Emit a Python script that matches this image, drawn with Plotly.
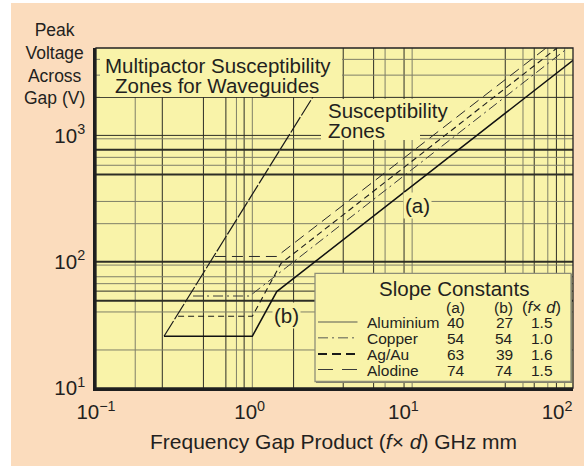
import plotly.graph_objects as go

# ---------------- data ----------------
X_TICKS = [0.1, 1, 10, 100]
X_TICK_TEXT = ["10<sup>−1</sup>", "10<sup>0</sup>", "10<sup>1</sup>", "10<sup>2</sup>"]
Y_TICKS = [10, 100, 1000]
Y_TICK_TEXT = ["10<sup>1</sup>", "10<sup>2</sup>", "10<sup>3</sup>"]

# graph-paper grid (frequency-gap product, voltage)
GRID_FD_DARK = [0.27, 0.5, 0.7, 0.92, 1.93, 4.06, 6.4, 10.1, 46, 71, 99]
GRID_FD_LIGHT = [0.18, 0.82, 1.04, 7.6, 11.4, 60, 87, 112]
GRID_V_DARK = [58.5, 1000, 2000]
GRID_V_LIGHT = [20, 40, 67, 76, 94, 200, 300, 580, 670, 940, 3000, 4000]
GRID_V_THICK = [49, 100, 490, 770]

# left boundary of the susceptibility zones
BOUND_FD = [0.277, 2.8]
BOUND_V = [25.7, 2370]

# material curves
ALU_FD = [0.277, 1.04, 1.5, 127]
ALU_V = [25.7, 25.7, 58, 3930]
CU_FD = [0.428, 1.0, 127]
CU_V = [53.5, 53.5, 5300]
AG_FD = [0.342, 1.04, 1.6, 127]
AG_V = [37, 37, 97, 6190]
ALO_FD = [0.594, 1.5, 127]
ALO_V = [110, 110, 7200]

# slope-constant table
MATERIALS = ["Aluminium", "Copper", "Ag/Au", "Alodine"]
SLOPE_A = [40, 54, 63, 74]
SLOPE_B = [27, 54, 39, 74]
SLOPE_FD = ["1.5", "1.0", "1.6", "1.5"]

# ---------------- styling ----------------
FONT = "Liberation Sans, Arial, Helvetica, sans-serif"
TXT = "#231f20"
PEACH = "#fbdcbd"
YELLOW = "#f9f3a9"
DARK = "#2e2e26"
LIGHT = "#7f7f68"

W, H = 584, 466
ML, MR, MT, MB = 96, 11, 48, 78
PW, PH = W - ML - MR, H - MT - MB


def PX(x):
    return (x - ML) / PW


def PY(y):
    return (H - MB - y) / PH


def vlines(vals):
    xs, ys = [], []
    for v in vals:
        xs += [v, v, None]
        ys += [5, 20000, None]
    return xs, ys


def hlines(vals):
    xs, ys = [], []
    for v in vals:
        xs += [0.05, 500, None]
        ys += [v, v, None]
    return xs, ys


fig = go.Figure()

for vals, color, width, fn in [
    (GRID_FD_LIGHT, LIGHT, 1, vlines),
    (GRID_FD_DARK, DARK, 1, vlines),
    (GRID_V_LIGHT, LIGHT, 1, hlines),
    (GRID_V_DARK, DARK, 1, hlines),
    (GRID_V_THICK, DARK, 2, hlines),
]:
    xs, ys = fn(vals)
    fig.add_trace(go.Scatter(x=xs, y=ys, mode="lines", line=dict(color=color, width=width),
                             hoverinfo="skip", showlegend=False))

fig.add_trace(go.Scatter(x=BOUND_FD, y=BOUND_V, mode="lines", showlegend=False,
                         line=dict(color="#1a1a1a", width=1.2, dash="18px,2px")))
fig.add_trace(go.Scatter(x=ALO_FD, y=ALO_V, mode="lines", name="Alodine",
                         line=dict(color="#2a2a2a", width=1, dash="11px,6px")))
fig.add_trace(go.Scatter(x=AG_FD, y=AG_V, mode="lines", name="Ag/Au",
                         line=dict(color="#1a1a1a", width=1.1, dash="6px,4px")))
fig.add_trace(go.Scatter(x=CU_FD, y=CU_V, mode="lines", name="Copper",
                         line=dict(color="#3a3a3a", width=1, dash="10px,4px,2px,4px")))
fig.add_trace(go.Scatter(x=ALU_FD, y=ALU_V, mode="lines", name="Aluminium",
                         line=dict(color="#111111", width=1.5)))

shapes = []
# white strips at the image edges, peach elsewhere (paper)
shapes.append(dict(type="rect", xref="paper", yref="paper", x0=PX(0), x1=PX(11), y0=PY(H), y1=PY(0),
                   fillcolor="white", line=dict(width=0), layer="below"))
shapes.append(dict(type="rect", xref="paper", yref="paper", x0=PX(0), x1=PX(W), y0=PY(3), y1=PY(0),
                   fillcolor="white", line=dict(width=0), layer="below"))
# text backgrounds
shapes.append(dict(type="rect", xref="paper", yref="paper", x0=PX(100), x1=PX(342), y0=PY(97), y1=PY(48),
                   fillcolor=YELLOW, line=dict(width=0), layer="above"))
shapes.append(dict(type="rect", xref="paper", yref="paper", x0=PX(321), x1=PX(420), y0=PY(140), y1=PY(99),
                   fillcolor=YELLOW, line=dict(width=0), layer="above"))
# slope constants box
shapes.append(dict(type="rect", xref="paper", yref="paper", x0=PX(316), x1=PX(572), y0=PY(383), y1=PY(274),
                   fillcolor="#7e7e6a", line=dict(width=0), layer="above"))
shapes.append(dict(type="rect", xref="paper", yref="paper", x0=PX(315), x1=PX(571), y0=PY(381.5), y1=PY(273.3),
                   fillcolor=YELLOW, line=dict(color="#8f8f78", width=1.3), layer="above"))
# legend samples
SAMPLE_STYLE = [
    dict(color="#8c8c70", width=1.4, dash="solid"),
    dict(color="#8c8c70", width=1.4, dash="10px,4px,2px,4px"),
    dict(color="#1a1a1a", width=2, dash="9px,5px"),
    dict(color="#3a3a3a", width=1.2, dash="15px,9px"),
]
ROW_Y = [322.5, 338.3, 354.5, 370]
for st, ry in zip(SAMPLE_STYLE, ROW_Y):
    shapes.append(dict(type="line", xref="paper", yref="paper", x0=PX(318), x1=PX(357.5),
                       y0=PY(ry - 0.5), y1=PY(ry - 0.5), line=st, layer="above"))
# plot frame
shapes.append(dict(type="rect", xref="paper", yref="paper", x0=0, x1=1, y0=0, y1=1,
                   line=dict(color="#222", width=1.3), layer="above"))

ann = []


def text(x, y, s, size, xanchor="center", bg=None):
    d = dict(xref="paper", yref="paper", x=PX(x), y=PY(y), text=s, showarrow=False,
             xanchor=xanchor, yanchor="middle", font=dict(family=FONT, size=size, color=TXT))
    if bg:
        d.update(bgcolor=bg, borderpad=1)
    ann.append(d)


text(217.5, 65.5, "Multipactor Susceptibility", 20.5)
text(216.5, 85.5, "Zones for Waveguides", 20.5)
text(326, 110.5, "Susceptibility", 20.5, xanchor="left")
text(326, 130.5, "Zones", 20.5, xanchor="left")
text(417.5, 205, "(a)", 20.5, bg=YELLOW)
text(286.7, 315, "(b)", 20.5, bg=YELLOW)
text(454, 288.5, "Slope Constants", 20.5)
text(455.7, 307, "(a)", 15.5)
text(503.3, 307, "(b)", 15.5)
text(541.7, 307, "(<i>f</i>× <i>d</i>)", 16.5)
for i, m in enumerate(MATERIALS):
    text(365, ROW_Y[i], m, 15.5, xanchor="left")
    text(455.7, ROW_Y[i], str(SLOPE_A[i]), 15.5)
    text(504, ROW_Y[i], str(SLOPE_B[i]), 15.5)
    text(541.7, ROW_Y[i], SLOPE_FD[i], 15.5)

ann.append(dict(xref="paper", yref="paper", x=PX(54), y=PY(64), text="Peak<br>Voltage<br>Across<br>Gap (V)",
                showarrow=False, xanchor="center", yanchor="middle", align="center",
                font=dict(family=FONT, size=17.5, color=TXT)))
text(333, 442, "Frequency Gap Product (<i>f</i>× <i>d</i>) GHz mm", 21)

fig.update_layout(
    width=W, height=H,
    margin=dict(l=ML, r=MR, t=MT, b=MB, pad=0),
    paper_bgcolor=PEACH, plot_bgcolor=YELLOW,
    showlegend=False,
    shapes=shapes, annotations=ann,
    font=dict(family=FONT, color=TXT),
)
fig.update_xaxes(type="log", range=[-1, 2.1035], tickvals=X_TICKS, ticktext=X_TICK_TEXT,
                 showgrid=False, zeroline=False, showline=True, linewidth=2.5, linecolor="#1e1e1e",
                 ticks="", ticklabelstandoff=4, tickfont=dict(family=FONT, size=20.5, color=TXT))
fig.update_yaxes(type="log", range=[1, 3.692], tickvals=Y_TICKS, ticktext=Y_TICK_TEXT,
                 showgrid=False, zeroline=False, showline=True, linewidth=2.5, linecolor="#1e1e1e",
                 ticks="", ticklabelstandoff=4, tickfont=dict(family=FONT, size=20.5, color=TXT))

fig.write_html("out.html", config={"displayModeBar": False},
               post_script="document.body.style.margin='0';document.body.style.overflow='hidden';")
